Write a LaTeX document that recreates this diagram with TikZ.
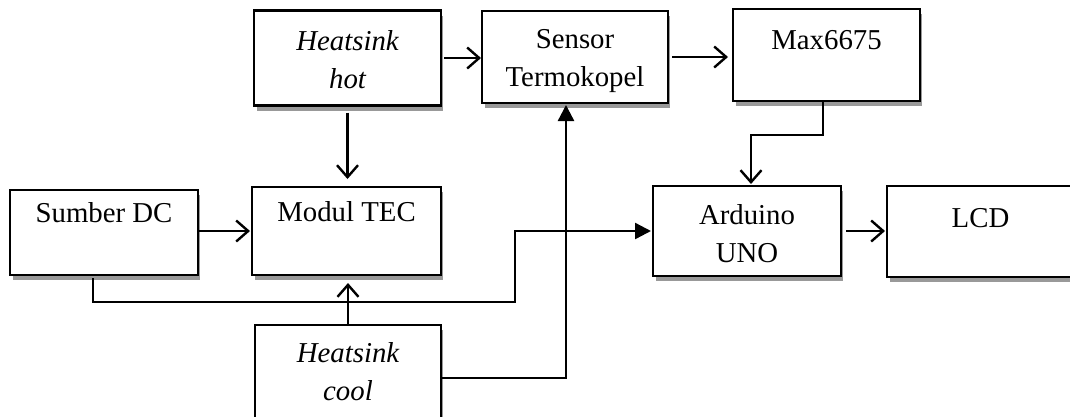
\documentclass[tikz,border=0pt]{standalone}
\usepackage{fontspec}
\setmainfont{Liberation Serif}
\usetikzlibrary{arrows.meta,calc,backgrounds}
\begin{document}
\begin{tikzpicture}[x=1pt,y=-1pt,
  box/.style={draw=black, line width=2.6pt, fill=white, inner sep=0pt, outer sep=0pt},
  shadowfill/.style={fill=black!40, draw=none},
  lbl/.style={font=\fontsize{28.8}{38}\selectfont, inner sep=0pt, anchor=base},
  conn/.style={line width=2.4pt},
  openarrow/.style={conn, -{Straight Barb[length=12pt,width=21pt,line width=2.4pt]}},
  fillarrow/.style={conn, -{Triangle[length=16pt,width=16pt]}}]
\useasboundingbox (0,0) rectangle (1070,416);
\clip (0,0) rectangle (1070,416);
% boxes
\node[box, minimum width=187pt, minimum height=95pt] (hot) at (347.5,58) {};
\node[box, minimum width=186pt, minimum height=92pt] (sensor) at (575,57) {};
\node[box, minimum width=187pt, minimum height=92pt] (max) at (826.5,55) {};
\node[box, minimum width=188pt, minimum height=85pt] (dc) at (104,232.5) {};
\node[box, minimum width=189pt, minimum height=88pt] (tec) at (346.5,231) {};
\node[box, minimum width=188pt, minimum height=90pt] (ard) at (747,231) {};
\node[box, minimum width=187pt, minimum height=91pt] (lcd) at (980.5,231.5) {};
\node[box, minimum width=186pt, minimum height=94pt] (cool) at (348,372) {};
% background and shadows
\begin{scope}[on background layer]
\fill[white] (0,0) rectangle (1070,416);
\foreach \b in {hot,sensor,max,dc,tec,ard,lcd,cool}{
  \fill[shadowfill] ($(\b.north west)+(2.5,5)$) rectangle ($(\b.south east)+(1.5,5)$);
}
\end{scope}
% labels
\node[lbl] (thot) at (347.5,50) {\begin{tabular}[t]{@{}c@{}}\itshape Heatsink\\\itshape hot\end{tabular}};
\node[lbl] (tsensor) at (575,48) {\begin{tabular}[t]{@{}c@{}}Sensor\\Termokopel\end{tabular}};
\node[lbl] (tmax) at (826.5,49) {Max6675};
\node[lbl] (tdc) at (104,222) {Sumber DC};
\node[lbl] (ttec) at (346.5,221) {Modul TEC};
\node[lbl] (tard) at (747,224) {\begin{tabular}[t]{@{}c@{}}Arduino\\UNO\end{tabular}};
\node[lbl] (tlcd) at (980.5,227) {LCD};
\node[lbl] (tcool) at (348,362) {\begin{tabular}[t]{@{}c@{}}\itshape Heatsink\\\itshape cool\end{tabular}};
% bend points
\coordinate (m1) at (823,135);
\coordinate (m2) at (751,135);
\coordinate (d1) at (93,302);
\coordinate (d2) at (515,302);
\coordinate (d3) at (515,231);
\coordinate (c1) at (566,378);
% connectors
\draw[openarrow, shorten <=3pt, shorten >=1pt] (hot.east) -- (hot.east -| sensor.west);
\draw[openarrow, shorten <=4pt, shorten >=5pt] (sensor.east) -- (sensor.east -| max.west);
\draw[openarrow, shorten >=2pt] (max.south -| m1) -- (m1) -- (m2) -- (m2 |- ard.north);
\draw[openarrow, shorten <=5pt, shorten >=2pt] (ard.east) -- (ard.east -| lcd.west);
\draw[openarrow, shorten <=7pt, shorten >=8pt] (hot.south) -- (hot.south |- tec.north);
\draw[openarrow, shorten >=2pt] (dc.east |- tec.west) -- (tec.west);
\draw[fillarrow, shorten <=3pt, shorten >=2pt] (dc.south -| d1) -- (d1) -- (d2) -- (d3) -- (d3 -| ard.west);
\draw[openarrow, shorten >=8pt] (cool.north) -- (cool.north |- tec.south);
\draw[fillarrow, shorten >=2pt] (cool.east |- c1) -- (c1) -- (c1 |- sensor.south);
\end{tikzpicture}
\end{document}
